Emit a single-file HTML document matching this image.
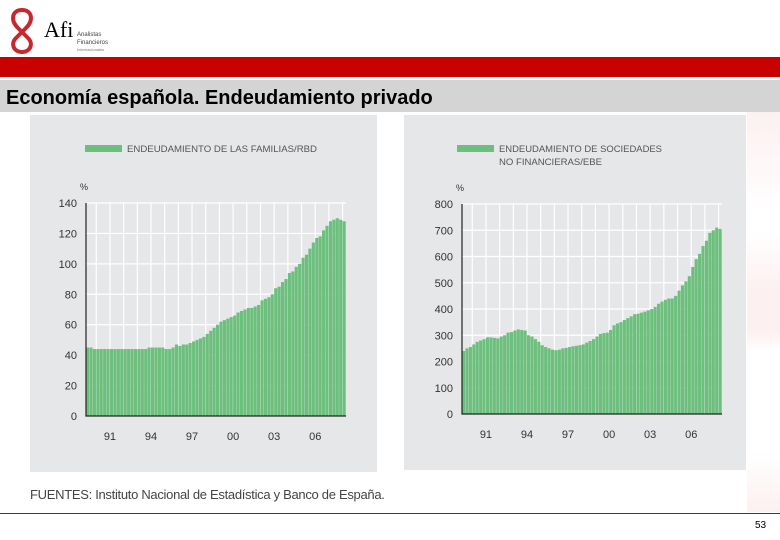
<!DOCTYPE html>
<html><head><meta charset="utf-8">
<style>
body{margin:0;width:780px;height:540px;overflow:hidden;background:#fff;font-family:"Liberation Sans",sans-serif;position:relative}
.abs{position:absolute}
</style></head>
<body>
<div class="abs" style="left:6px;top:6px;width:120px;height:48px">
<svg width="120" height="48">
<path d="M16 4 C6 4 4 14 12 22 L22 32 C28 38 24 46 16 46 C8 46 4 38 10 32 L20 22 C28 14 26 4 16 4 Z" fill="none" stroke="#c8282d" stroke-width="4"/>
<text x="38" y="31" font-family="Liberation Serif,serif" font-size="22" fill="#000">Afi</text>
<text x="71" y="30" font-size="6" fill="#444">Analistas</text>
<text x="71" y="38" font-size="6" fill="#444">Financieros</text>
<text x="71" y="45" font-size="4" fill="#777">Internacionales</text>
</svg></div>
<div class="abs" style="left:0;top:57px;width:780px;height:20px;background:#c80000"></div>
<div class="abs" style="left:0;top:80px;width:780px;height:32px;background:#d4d4d4"></div>
<div class="abs" style="left:6px;top:87px;font-size:20px;font-weight:bold;color:#000">Economía española. Endeudamiento privado</div>
<div class="abs" style="left:747px;top:112px;width:33px;height:400px;background:linear-gradient(#fdf0f0,#fff 25%,#fff 30%,#fdf0f0 45%,#fdf0f0 55%,#fff 60%,#fff 85%,#fdf0f0)"></div>
<svg class="abs" style="left:0;top:0" width="780" height="540" id="charts">
<rect x="30" y="115" width="347" height="357" fill="#e6e7e8"/>
<rect x="404" y="115" width="342" height="355" fill="#e6e7e8"/>
</svg>
<div class="abs" style="left:30px;top:487px;font-size:13px;color:#444;letter-spacing:-0.3px">FUENTES: Instituto Nacional de Estadística y Banco de España.</div>
<div class="abs" style="left:0;top:513px;width:780px;height:1px;background:#a01010"></div>
<div class="abs" style="left:755px;top:520px;font-size:10px;color:#000">53</div>
<script>
const quarters0 = 1989.25;
const yearTicks = [1991,1994,1997,2000,2003,2006];
const yearLabels = ["91","94","97","00","03","06"];
const famTicks = [0,20,40,60,80,100,120,140];
const famValues = [45,45,44, 44,44,44,44, 44,44,44,44, 44,44,44,44, 44,44,44,45, 45,45,45,45, 44,44,45,47, 46,47,47,48, 49,50,51,52, 54,56,58,60, 62,63,64,65, 66,68,69,70, 71,71,72,73, 76,77,78,80, 84,85,88,90, 94,95,98,100, 104,106,110,114, 117,118,122,125, 128,129,130,129, 128];
const socTicks = [0,100,200,300,400,500,600,700,800];
const socValues = [240,250,255, 265,275,280,285, 292,292,290,288, 295,300,310,312, 318,322,320,318, 300,295,285,275, 262,255,250,245, 243,245,250,252, 255,258,260,262, 265,272,278,285, 295,305,308,310, 320,338,345,350, 358,365,372,380, 382,386,390,395, 400,408,420,428, 435,440,440,450, 470,490,505,525, 560,590,610,640, 660,690,700,710, 705];
const NS="http://www.w3.org/2000/svg";
const svg=document.getElementById('charts');
function mk(tag,attrs,parent){const e=document.createElementNS(NS,tag);for(const k in attrs)e.setAttribute(k,attrs[k]);(parent||svg).appendChild(e);return e;}
function chart(cfg){
  const g=mk('g',{});
  
  
  const n=cfg.values.length;
  const t1=quarters0+n/4;
  const xs=t=>cfg.x0+(t-quarters0)/(t1-quarters0)*(cfg.x1-cfg.x0);
  const ymax=cfg.ticks[cfg.ticks.length-1];
  const ys=v=>cfg.y0-v/ymax*(cfg.y0-cfg.yTop);
  cfg.ticks.forEach(v=>{const l=mk('line',{x1:cfg.x0,x2:cfg.x1,y1:ys(v),y2:ys(v),stroke:'#fff','stroke-width':1.2},g);
    
    const t=mk('text',{x:cfg.x0-9,y:ys(v)+4,'font-size':11,'text-anchor':'end',fill:'#333'},g);t.textContent=v;
    });
  for(let yr=1990;yr<=2008;yr++){const l=mk('line',{x1:xs(yr),x2:xs(yr),y1:cfg.yTop,y2:cfg.y0,stroke:'#fff','stroke-width':1.2},g);
    }
  const bw=(cfg.x1-cfg.x0)/n;
  cfg.values.forEach((v,i)=>{const r=mk('rect',{x:cfg.x0+i*bw,y:ys(v),width:bw-0.3,height:cfg.y0-ys(v),fill:'#6cbf7c'},g);
    });
  const ax=mk('path',{d:`M${cfg.x0} ${cfg.yTop} V${cfg.y0} H${cfg.x1}`,stroke:'#222','stroke-width':1.2,fill:'none'},g);
  
  yearTicks.forEach((yr,i)=>{const t=mk('text',{x:xs(yr),y:cfg.y0+24,'font-size':11,'text-anchor':'middle',fill:'#333'},g);t.textContent=yearLabels[i];
    });
  const pc=mk('text',{x:cfg.x0-2,y:cfg.yTop-13,'font-size':9,'text-anchor':'middle',fill:'#333'},g);pc.textContent='%';
  
  const lg=mk('rect',{x:cfg.legX,y:145,width:37,height:7,fill:'#6cbf7c'},g);
  
  cfg.legend.forEach((s,i)=>{const t=mk('text',{x:cfg.legX+42,y:152+i*13,'font-size':9,fill:'#555',textLength:cfg.legLen[i],lengthAdjust:'spacingAndGlyphs'},g);t.textContent=s;
    });
}
chart({name:'household-debt-chart',values:famValues,ticks:famTicks,x0:86,x1:346,y0:416,yTop:203,legX:85,legend:['ENDEUDAMIENTO DE LAS FAMILIAS/RBD'],legLen:[190]});
chart({name:'corporate-debt-chart',values:socValues,ticks:socTicks,x0:462,x1:722,y0:414,yTop:204,legX:457,legend:['ENDEUDAMIENTO DE SOCIEDADES','NO FINANCIERAS/EBE'],legLen:[163,103]});
</script>
</body></html>
